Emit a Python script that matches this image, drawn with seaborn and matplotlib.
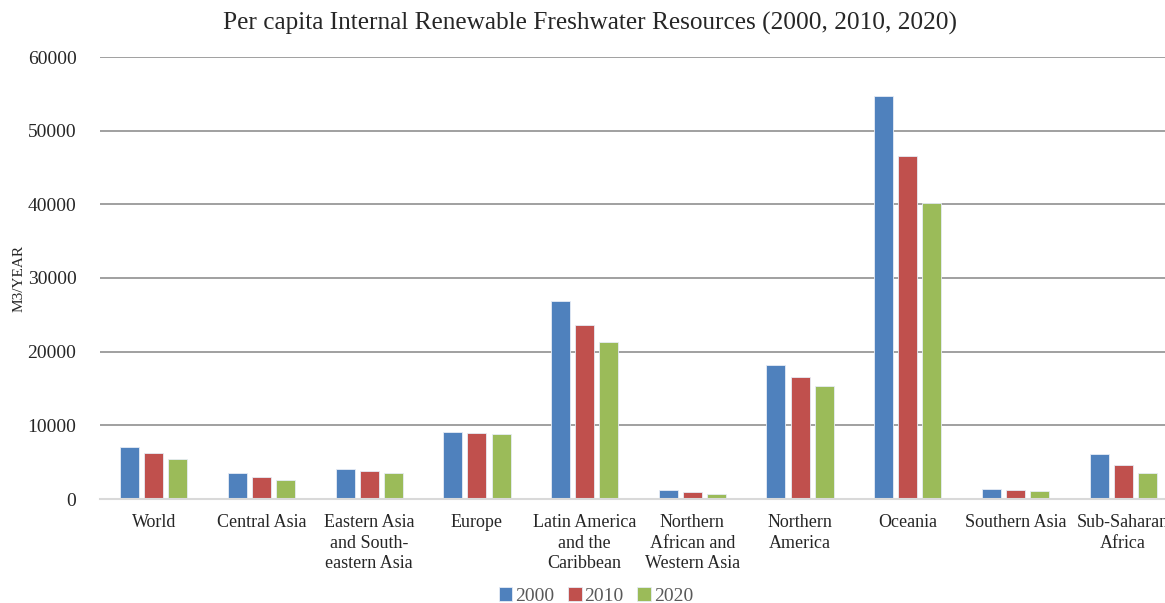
import pandas as pd
import numpy as np
import matplotlib
matplotlib.use("Agg")
import matplotlib.pyplot as plt
import seaborn as sns

# ================================
# Data
# ================================

regions = [
    "World",
    "Central Asia",
    "Eastern Asia\nand South-\neastern Asia",
    "Europe",
    "Latin America\nand the\nCaribbean",
    "Northern\nAfrican and\nWestern Asia",
    "Northern\nAmerica",
    "Oceania",
    "Southern Asia",
    "Sub-Saharan\nAfrica",
]

years = ["2000", "2010", "2020"]

vals_2000 = [7000, 3500, 4050, 9100, 26850, 1220, 18150, 54650, 1400, 6060]
vals_2010 = [6200, 3030, 3760, 8900, 23650, 950, 16520, 46500, 1220, 4580]
vals_2020 = [5480, 2580, 3530, 8780, 21350, 730, 15350, 40170, 1040, 3500]

colors = ["#4F81BD", "#C0504D", "#9BBB59"]

df = pd.DataFrame({
    "Region": regions * 3,
    "Year": [y for y in years for _ in regions],
    "Value": vals_2000 + vals_2010 + vals_2020,
})

# ================================
# Plot
# ================================

sns.set_style("white")
plt.rcParams["font.family"] = ["Liberation Serif", "DejaVu Serif"]

fig = plt.figure(figsize=(11.65, 6.03), dpi=100)
ax = fig.add_axes([100 / 1165, 1 - 499 / 603, 1077 / 1165, 442 / 603])

sns.barplot(
    data=df,
    x="Region",
    y="Value",
    hue="Year",
    palette=colors,
    saturation=1,
    width=0.67,
    gap=0.21,
    edgecolor="#E6ECF5",
    linewidth=0.6,
    ax=ax,
)

ax.set_ylim(0, 60000)
ax.set_yticks(np.arange(0, 60001, 10000))
ax.set_xlim(-0.5, len(regions) - 0.5)

ax.yaxis.grid(True, color="#868686", linewidth=1.1)
ax.set_axisbelow(True)

for s in ["top", "right", "left"]:
    ax.spines[s].set_visible(False)
ax.spines["bottom"].set_color("#D9D9D9")
ax.spines["bottom"].set_linewidth(1.5)

ax.tick_params(axis="both", length=0)
ax.tick_params(axis="y", labelsize=14, pad=17)
ax.tick_params(axis="x", labelsize=13, pad=11)
for lbl in ax.get_xticklabels():
    lbl.set_linespacing(1.25)

ax.set_xlabel("")
ax.set_ylabel("M3/YEAR", fontsize=11)
ax.yaxis.set_label_coords(-74 / 1077, 0.5)

fig.text(590 / 1165, 1 - 23 / 603,
         "Per capita Internal Renewable Freshwater Resources (2000, 2010, 2020)",
         ha="center", va="center", fontsize=18.2)

leg = ax.legend(
    loc="center",
    bbox_to_anchor=(596 / 1165, 1 - 596 / 603),
    bbox_transform=fig.transFigure,
    ncol=3,
    frameon=False,
    fontsize=14,
    handlelength=0.7,
    handleheight=0.7,
    handletextpad=0.15,
    columnspacing=0.7,
)
for t in leg.get_texts():
    t.set_color("#595959")

fig.savefig("out.png", dpi=100)
